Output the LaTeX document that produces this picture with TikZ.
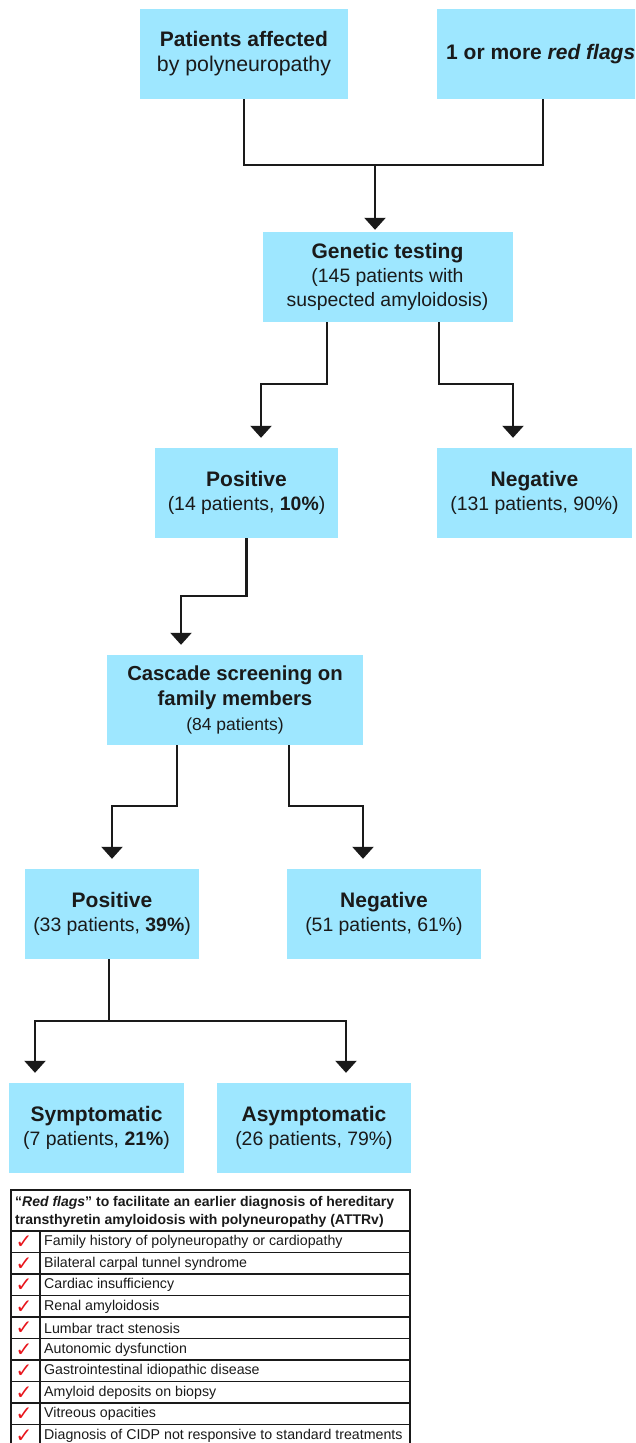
\documentclass[tikz,border=0pt]{standalone}
\usepackage{fontspec}
\setmainfont{Liberation Sans}
\newfontfamily\symfont{DejaVu Sans}
\usetikzlibrary{arrows.meta}
\definecolor{boxfill}{HTML}{9EE7FF}
\definecolor{ink}{HTML}{1A1A1A}
\definecolor{flagred}{HTML}{E8141B}
\newcommand\hb[1]{{\fontsize{21}{24}\selectfont\bfseries #1}}
\tikzset{
 box/.style={fill=boxfill, draw=none, inner sep=0pt, align=center, text=ink, font=\fontsize{19.4}{24}\selectfont, minimum height=90pt},
 conn/.style={draw=ink, line width=2.4pt},
 arr/.style={conn, -{Triangle[width=21pt,length=12pt]}, shorten >=10pt},
 tline/.style={draw=ink, line width=1.5pt},
 ttext/.style={font=\fontsize{14.2}{17}\selectfont, text=ink, anchor=west, inner sep=0pt},
 chk/.style={text=flagred, font=\symfont\fontsize{20}{20}\selectfont, inner sep=0pt},
}
\begin{document}
\begin{tikzpicture}[x=1pt,y=-1pt]
\useasboundingbox (0,0) rectangle (635,1443);
\clip (0,0) rectangle (635,1443);
% boxes
\node[box, minimum width=208pt, font=\fontsize{21.3}{25}\selectfont] (n1) at (244,54) {\hb{Patients affected}\\by polyneuropathy};
\node[box, minimum width=212pt] (n2) at (543,54) {};
\node[text=ink, anchor=west, inner sep=0pt] (n2t) at (446,54) {\hb{1 or more \textit{red flags}}};
\node[box, minimum width=250pt] (n3) at (387.5,277) {\hb{Genetic testing}\\(145 patients with\\suspected amyloidosis)};
\node[box, minimum width=183pt] (n4) at (246.5,493) {\hb{Positive}\\(14 patients, \textbf{10\%})};
\node[box, minimum width=195pt] (n5) at (534.5,493) {\hb{Negative}\\(131 patients, 90\%)};
\node[box, minimum width=256pt, font=\fontsize{17.5}{25}\selectfont] (n6) at (235,700) {{\fontsize{20.3}{25}\selectfont\bfseries Cascade screening on}\\{\fontsize{20.3}{25}\selectfont\bfseries family members}\\(84 patients)};
\node[box, minimum width=174pt] (n7) at (112,914) {\hb{Positive}\\(33 patients, \textbf{39\%})};
\node[box, minimum width=194pt] (n8) at (384,914) {\hb{Negative}\\(51 patients, 61\%)};
\node[box, minimum width=175pt] (n9) at (96.5,1128) {\hb{Symptomatic}\\(7 patients, \textbf{21\%})};
\node[box, minimum width=194pt] (n10) at (314,1128) {\hb{Asymptomatic}\\(26 patients, 79\%)};
% connectors
\draw[conn] (n1.south) -- ++(0,66) -| (n2.south);
\coordinate (j1) at (375,165);
\draw[arr, shorten >=2pt] (j1) -- (j1 |- n3.north);
\draw[arr] ([xshift=-60.5pt]n3.south) -- ++(0,62) -| ([xshift=14.5pt]n4.north);
\draw[arr] ([xshift=51.5pt]n3.south) -- ++(0,62) -| ([xshift=-21.5pt]n5.north);
\draw[arr] (n4.south) -- ++(0,58) -| ([xshift=-54pt]n6.north);
\draw[arr] ([xshift=-58pt]n6.south) -- ++(0,61) -| (n7.north);
\draw[arr] ([xshift=54pt]n6.south) -- ++(0,61) -| ([xshift=-21pt]n8.north);
\draw[conn] ([xshift=-3pt]n7.south) -- ++(0,62) coordinate (j2);
\draw[arr] (j2) -| ([xshift=-61.5pt]n9.north);
\draw[arr] (j2) -| ([xshift=32pt]n10.north);
% table
\draw[tline] (11,1190) rectangle (410,1448);
\foreach \k in {0,...,9} { \draw[tline] (11,{1231+21.5*\k}) -- (410,{1231+21.5*\k}); }
\draw[tline] (40,1231) -- (40,1448);
\node[ttext, align=left, font=\bfseries\fontsize{14}{18.5}\selectfont] (th) at (15,1212) {“\textit{Red flags}” to facilitate an earlier diagnosis of hereditary\\transthyretin amyloidosis with polyneuropathy (ATTRv)};
\foreach \t [count=\i from 0] in {Family history of polyneuropathy or cardiopathy, Bilateral carpal tunnel syndrome, Cardiac insufficiency, Renal amyloidosis, Lumbar tract stenosis, Autonomic dysfunction, Gastrointestinal idiopathic disease, Amyloid deposits on biopsy, Vitreous opacities, Diagnosis of CIDP not responsive to standard treatments} {
  \node[ttext] (r\i) at (44,{1242+21.5*\i}) {\t};
  \node[chk] (c\i) at (24,{1242.5+21.5*\i}) {✓};
}
\end{tikzpicture}
\end{document}
